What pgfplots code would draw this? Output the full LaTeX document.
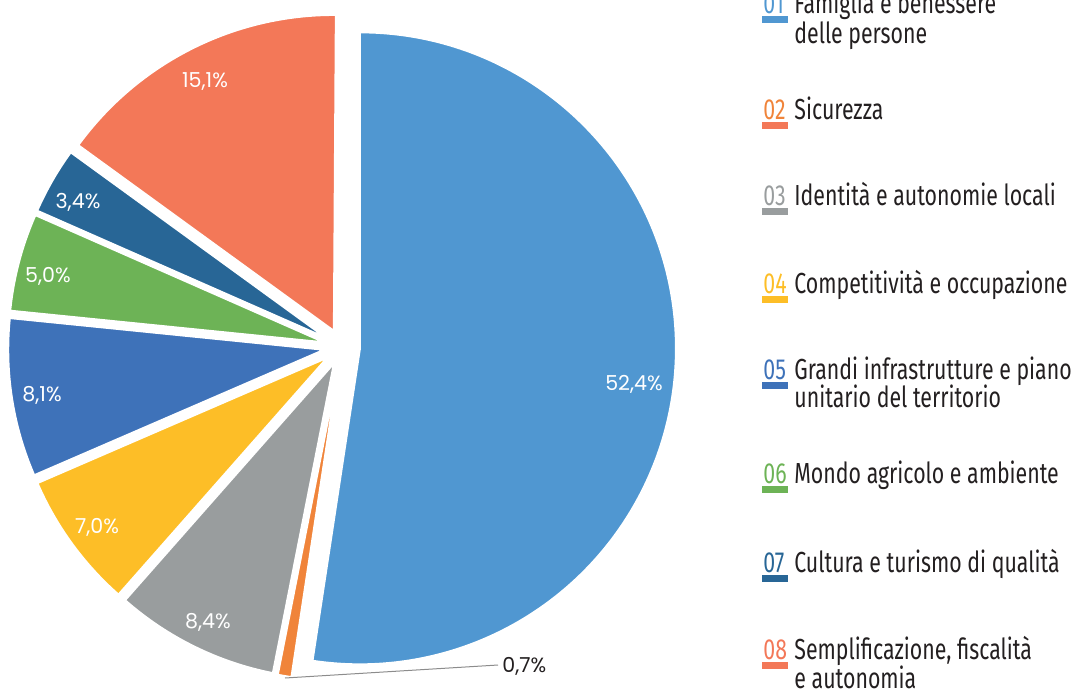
\documentclass[border=0pt]{standalone}
\usepackage{pgfplots}
\pgfplotsset{compat=1.18}
\usepackage{pgfplotstable}
\usepackage{fontspec}
\setmainfont{Fira Sans}
\newfontfamily\legfont[FakeStretch=0.735]{Fira Sans}
\newfontfamily\labfont{Poppins}
\definecolor{pc0}{HTML}{5097D1}
\definecolor{pc1}{HTML}{F0843A}
\definecolor{pc2}{HTML}{999D9E}
\definecolor{pc3}{HTML}{FDBE27}
\definecolor{pc4}{HTML}{3E72B9}
\definecolor{pc5}{HTML}{6DB356}
\definecolor{pc6}{HTML}{286696}
\definecolor{pc7}{HTML}{F37858}
\definecolor{txt}{HTML}{231F20}
\definecolor{lead}{HTML}{8C8C8C}
% share (%), label position (px, y down)
\pgfplotstableread{
val lx ly
52.4 634 384
0.7 0 0
8.4 208 622
7.0 97 527
8.1 42 395
5.0 48 276
3.4 78 202
15.1 205 82
}\piedata
\def\cum{0}%
\pgfplotstableforeachcolumnelement{val}\of\piedata\as\v{%
  \pgfmathsetmacro\sa{\cum*3.6}%
  \pgfmathsetmacro\sb{(\cum+\v)*3.6}%
  \pgfmathsetmacro\ts{90-\sa}%
  \pgfmathsetmacro\te{90-\sb}%
  \pgfmathsetmacro\tm{90-(\sa+\sb)/2}%
  \pgfmathsetmacro\ax{342+18*cos(\tm)}%
  \pgfmathsetmacro\ay{347-18*sin(\tm)}%
  \expandafter\xdef\csname pieTS\pgfplotstablerow\endcsname{\ts}%
  \expandafter\xdef\csname pieTE\pgfplotstablerow\endcsname{\te}%
  \expandafter\xdef\csname pieAX\pgfplotstablerow\endcsname{\ax}%
  \expandafter\xdef\csname pieAY\pgfplotstablerow\endcsname{\ay}%
  \expandafter\xdef\csname pieV\pgfplotstablerow\endcsname{\v}%
  \pgfplotstablegetelem{\pgfplotstablerow}{lx}\of\piedata
  \expandafter\xdef\csname pieLX\pgfplotstablerow\endcsname{\pgfplotsretval}%
  \pgfplotstablegetelem{\pgfplotstablerow}{ly}\of\piedata
  \expandafter\xdef\csname pieLY\pgfplotstablerow\endcsname{\pgfplotsretval}%
  \pgfmathsetmacro\nc{\cum+\v}\xdef\cum{\nc}%
}
\newcommand\pieslice[1]{%
  \filldraw[fill=pc#1, draw=white, line width=1pt, line join=round]
    (axis cs:\csname pieAX#1\endcsname,\csname pieAY#1\endcsname)
    -- ++(\csname pieTS#1\endcsname:158pt)
    arc[start angle=\csname pieTS#1\endcsname, end angle=\csname pieTE#1\endcsname, radius=158pt]
    -- cycle;
}
\newcommand\pielabel[1]{%
  \node[text=white, font=\labfont\fontsize{10.3}{12}\selectfont, inner sep=0pt]
    at (axis cs:\csname pieLX#1\endcsname,\csname pieLY#1\endcsname)
    {\pgfmathprintnumber[fixed, fixed zerofill, precision=1, use comma, assume math mode=true]{\csname pieV#1\endcsname}\%};
}
\newcommand\legnum[4]{% baseline, numcolor, barcolor, number
  \node[anchor=base west, inner sep=0pt, text=#2, font=\legfont\fontsize{14.5}{15}\selectfont] at (axis cs:763,#1) {#4};
  \fill[#3] (axis cs:762,#1+3) rectangle (axis cs:788,#1+10);
}
\newcommand\legtxt[2]{% baseline, text
  \node[anchor=base west, inner sep=0pt, text=txt, font=\legfont\fontsize{14.5}{15}\selectfont] at (axis cs:794,#1) {#2};
}
\begin{document}
\begin{tikzpicture}
\useasboundingbox (0,0) rectangle (535.5pt,345.5pt);
\begin{axis}[at={(0,0)}, anchor=south west, x=0.5pt, y=0.5pt,
  xmin=0, xmax=1071, ymin=0, ymax=691, y dir=reverse,
  hide axis, clip=false]
\pgfplotsinvokeforeach{0,...,7}{\pieslice{#1}}
\pgfplotsinvokeforeach{0,2,3,4,5,6,7}{\pielabel{#1}}
\draw[lead, line width=0.5pt] (axis cs:285,678) -- (axis cs:498,665);
\node[anchor=west, inner sep=0pt, text=txt, font=\labfont\fontsize{10.3}{12}\selectfont]
  at (axis cs:502,666) {\pgfmathprintnumber[fixed, fixed zerofill, precision=1, use comma, assume math mode=true]{\csname pieV1\endcsname}\%};
% legend
\legnum{13}{pc0}{pc0}{01}
\legtxt{13}{Famiglia e benessere}
\legtxt{43}{delle persone}
\legnum{119}{pc1}{pc7}{02}
\legtxt{119}{Sicurezza}
\legnum{205}{pc2}{pc2}{03}
\legtxt{205}{Identità e autonomie locali}
\legnum{293}{pc3}{pc3}{04}
\legtxt{293}{Competitività e occupazione}
\legnum{379}{pc4}{pc4}{05}
\legtxt{379}{Grandi infrastrutture e piano}
\legtxt{407}{unitario del territorio}
\legnum{483}{pc5}{pc5}{06}
\legtxt{483}{Mondo agricolo e ambiente}
\legnum{572}{pc6}{pc6}{07}
\legtxt{572}{Cultura e turismo di qualità}
\legnum{659}{pc7}{pc7}{08}
\legtxt{659}{Semplificazione, fiscalità}
\legtxt{688}{e autonomia}
\end{axis}
\end{tikzpicture}
\end{document}
